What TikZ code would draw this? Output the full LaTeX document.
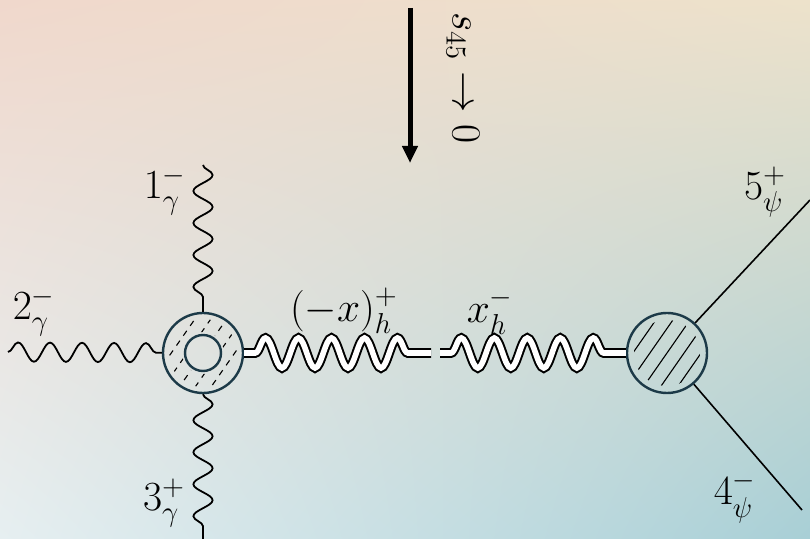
\documentclass[tikz,border=0pt]{standalone}
\usepackage{amsmath}
\usepackage{xcolor}
\usetikzlibrary{arrows.meta}
\usetikzlibrary{decorations.pathmorphing, positioning, calc, shadings}

\definecolor{blobline}{RGB}{28,58,72}
\definecolor{bgtl}{RGB}{240,216,204}
\definecolor{bgtr}{RGB}{237,226,203}
\definecolor{bgbl}{RGB}{230,239,241}
\definecolor{bgbr}{RGB}{168,207,214}

\begin{document}
\begin{tikzpicture}[x=0.5pt,y=-0.5pt,
        photon/.style={decorate, decoration={snake, amplitude=4.8pt, segment length=16pt}, line width=0.9pt},
        graviton/.style={decorate, decoration={snake, amplitude=7.5pt, segment length=16.5pt, pre length=5.5pt, post length=5pt}, draw=black, line width=1pt, double=white, double distance=2.8pt},
        fermion/.style={line width=0.8pt},
        blob/.style={circle, draw=blobline, line width=1.2pt, minimum size=40pt, inner sep=0pt},
        hole/.style={circle, draw=blobline, line width=1.2pt, minimum size=18pt, inner sep=0pt},
        hatch/.style={line width=0.55pt},
        lab/.style={font=\fontsize{21}{25}\selectfont, inner sep=0pt}]
        \shade[upper left=bgtl, upper right=bgtr, lower left=bgbl, lower right=bgbr] (0,0) rectangle (810,539);
        \useasboundingbox (0,0) rectangle (810,539);

        \node[blob] (a) at (203,353) {};
        \node[hole] (a0) at (a) {};
        \node[blob] (b) at (667,353) {};
        \coordinate (i1) at (203,165);
        \coordinate (i2) at (8,352);
        \coordinate (i3) at (203,539);
        \coordinate (g1) at (431,353);
        \coordinate (g2) at (440,353);
        \coordinate (f1) at (810,200);
        \coordinate (f2) at (802,510);
        \coordinate (t1) at (410,8);
        \coordinate (t2) at (410,163);

        \begin{scope}[even odd rule]
            \clip (a) circle[radius=34] (a) circle[radius=21];
            \foreach \k in {-3,...,3}
                \draw[hatch, dash pattern=on 3pt off 3pt] ($(a)+({10.7*\k-25.7},{7.4*\k+36.9})$) -- ($(a)+({10.7*\k+25.7},{7.4*\k-36.9})$);
        \end{scope}
        \begin{scope}
            \clip (b) circle[radius=33];
            \foreach \k in {-2,...,2}
                \draw[hatch] ($(b)+({11.5*\k-25.7},{8*\k+36.9})$) -- ($(b)+({11.5*\k+25.7},{8*\k-36.9})$);
        \end{scope}

        \draw[photon] (i1) -- (a);
        \draw[photon] (i2) -- (a);
        \draw[photon] (a) -- (i3);
        \draw[graviton] (a) -- (g1);
        \draw[graviton] (g2) -- (b);
        \draw[fermion] (b) -- (f1);
        \draw[fermion] (b) -- (f2);
        \draw[line width=2.5pt, -{Triangle[length=8.5pt,width=7.5pt]}] (t1) -- (t2);

        \node[lab] (l1) at (165,191) {$1_\gamma^-$};
        \node[lab] (l2) at (34,312) {$2_\gamma^-$};
        \node[lab] (l3) at (164,503) {$3_\gamma^+$};
        \node[lab] (lh1) at (344,311) {$(-x)_h^+$};
        \node[lab] (lh2) at (490,312) {$x_h^-$};
        \node[lab] (l5) at (765,192) {$5_\psi^+$};
        \node[lab] (l4) at (735,497) {$4_\psi^-$};
        \node[lab, rotate=-90] (s) at (463,78) {$s_{45}\to 0$};
\end{tikzpicture}
\end{document}
